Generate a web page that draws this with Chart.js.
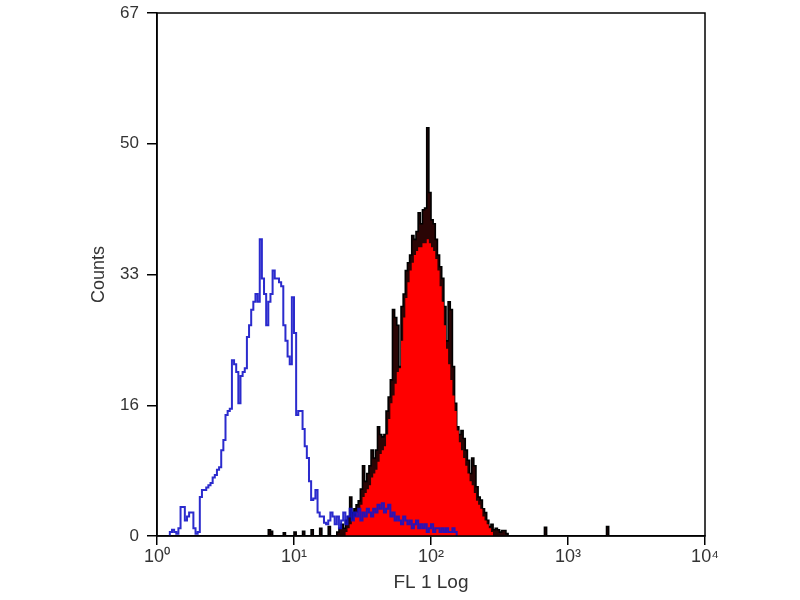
<!DOCTYPE html>
<html>
<head>
<meta charset="utf-8">
<script src="https://cdn.jsdelivr.net/npm/chart.js@4/dist/chart.umd.min.js"></script>
<style>
  body { margin: 0; background: #fff; }
  #wrap { width: 800px; height: 600px; }
</style>
</head>
<body>
<div id="wrap"><canvas id="histChart" width="800" height="600"></canvas></div>
<script>
// channels: 64 per decade, 4 decades (10^0 .. 10^4)
const channelsPerDecade = 64;

const xTickValues = [1, 10, 100, 1000, 10000];
const xTickLabels = ['10\u2070', '10\u00b9', '10\u00b2', '10\u00b3', '10\u2074'];
const yTickValues = [0, 16.75, 33.5, 50.25, 67];
const yTickLabels = ['0', '16', '33', '50', '67'];

// isotype control (blue outline), first channel 6
const blueStart = 6;
const blueCounts = [
    0.5, 0.8, 0.5, 0.3, 1, 3.7, 3.7, 2, 2.5, 3, 3, 1, 0.3, 0.5,
    5, 5.9, 5.9, 6.2, 6.5, 6.8, 7.5, 7.8, 8.5, 8.8,
    11, 12.3, 15.5, 16, 16.3, 22.5, 22, 21, 17, 20.5,
    21, 21.5, 25.5, 27, 29, 30, 31, 30, 38, 33,
    31, 27, 30, 31, 34, 33, 33, 32.5, 32, 27,
    25, 23, 22, 30.6, 26, 15.5, 16, 16, 13.7, 11.5,
    10, 7, 4.6, 4.8, 5.9, 3, 2.5, 2.5, 1.7, 1.5,
    2, 3, 2.5, 1.5, 2.5, 1, 2, 3, 1.5, 2.5,
    3.5, 2, 3, 2.5, 3.5, 2, 3, 2.5, 3.5, 3,
    2.5, 3.5, 3, 4, 3.5, 4.2, 3, 3.5, 4, 2.5,
    3, 2, 2.5, 2, 1.5, 2.5, 2, 1.5, 2, 1,
    1.5, 2, 1, 1.5, 1, 1.5, 0.5, 1, 1.5, 0.5,
    1, 1, 0.5, 1, 0.5, 1, 0.5, 0.5, 1, 0.5
];

// stained sample, outline (black), first channel 84
const blackStart = 84;
const blackCounts = [
    0.5, 1, 1.5, 1, 2, 2.5,
    5, 3, 3.5, 4, 4.5, 6, 9, 7, 8, 9,
    11, 10, 11, 14, 13, 12.7, 13, 16, 17.8, 20,
    29, 28, 27, 21.7, 29.4, 31, 34, 35, 36, 38.5,
    38, 39, 41.4, 40, 41.8, 42, 52.3, 44, 40.5, 40,
    38, 36, 34.5, 33, 29.4, 25, 30, 29, 21.7, 17,
    14, 13, 13.5, 12.5, 11, 9.7, 8, 10, 9, 6.3,
    5, 4.6, 3.5, 3, 2, 1.2, 1.5, 0.8, 1, 0.8,
    0.5, 0.7, 0.7, 0.3
];
// isolated events of the stained sample
const blackSpikeBins = [52, 53, 59, 64, 68, 72, 76, 80, 181, 210];
const blackSpikeCounts = [0.8, 0.6, 0.4, 0.5, 0.6, 0.8, 1, 1.2, 1.1, 1.2];

// stained sample, filled body (red), first channel 88
const redStart = 88;
const redCounts = [
    0.5, 1, 1.5, 2, 2.5, 3, 3.5, 4, 5, 5.5, 6, 6.5,
    7.5, 8, 8.5, 9.5, 10.5, 11, 11.5, 13, 15, 17,
    18, 19.5, 21, 21.5, 25, 28, 30.5, 32.5, 34, 35,
    36, 36.5, 37, 37, 37.5, 37.5, 38, 37.5, 37, 36.5,
    35.5, 34, 32, 30, 27, 24, 22, 20, 18, 16,
    13.5, 12, 11, 10, 9, 8, 7, 6.5, 5.5, 4.5,
    4, 3.5, 2.5, 2, 1.5, 1, 0.5
];

function chToX(ch) {
    return Math.pow(10, ch / channelsPerDecade);
}

// step-histogram points: left edge of each channel, closed to zero at both ends
function histPoints(start, counts) {
    const pts = [{ x: chToX(start), y: 0 }];
    counts.forEach((c, i) => pts.push({ x: chToX(start + i), y: c }));
    pts.push({ x: chToX(start + counts.length), y: 0 });
    return pts;
}

let blackPoints = [];
blackSpikeBins.forEach((b, i) => {
    if (b < blackStart) blackPoints = blackPoints.concat(histPoints(b, [blackSpikeCounts[i]]));
});
blackPoints = blackPoints.concat(histPoints(blackStart, blackCounts));
blackSpikeBins.forEach((b, i) => {
    if (b > blackStart) blackPoints = blackPoints.concat(histPoints(b, [blackSpikeCounts[i]]));
});

const framePlugin = {
    id: 'frame',
    afterDraw(chart) {
        const { ctx, chartArea } = chart;
        ctx.save();
        ctx.strokeStyle = '#000';
        ctx.lineWidth = 1.5;
        ctx.strokeRect(chartArea.left, chartArea.top, chartArea.right - chartArea.left, chartArea.bottom - chartArea.top);
        ctx.restore();
    }
};

const ctx = document.getElementById('histChart').getContext('2d');
new Chart(ctx, {
    type: 'line',
    data: {
        datasets: [
            {
                label: 'Control',
                data: histPoints(blueStart, blueCounts),
                borderColor: 'rgba(20, 20, 200, 0.9)',
                borderWidth: 2,
                stepped: 'before',
                fill: false,
                pointRadius: 0,
                order: 0
            },
            {
                label: 'Stained fill',
                data: histPoints(redStart, redCounts),
                borderWidth: 0,
                borderColor: 'rgba(0,0,0,0)',
                backgroundColor: '#ff0000',
                stepped: 'before',
                fill: 'origin',
                pointRadius: 0,
                order: 1
            },
            {
                label: 'Stained',
                data: blackPoints,
                borderColor: '#000',
                borderWidth: 1.6,
                backgroundColor: '#2a0505',
                stepped: 'before',
                fill: 'origin',
                pointRadius: 0,
                order: 2
            }
        ]
    },
    options: {
        responsive: false,
        animation: false,
        layout: { padding: { top: 13, right: 95, left: 0, bottom: 0 } },
        plugins: {
            legend: { display: false },
            tooltip: { enabled: false }
        },
        scales: {
            x: {
                type: 'logarithmic',
                min: 1,
                max: 10000,
                afterBuildTicks: scale => { scale.ticks = xTickValues.map(v => ({ value: v })); },
                afterFit: scale => { scale.height = 64; scale.paddingLeft = 0; scale.paddingRight = 0; },
                ticks: {
                    autoSkip: false,
                    maxRotation: 0,
                    padding: 1,
                    color: '#333',
                    font: { family: 'Liberation Sans', size: 18 },
                    callback: (v, i) => xTickLabels[i]
                },
                grid: { drawOnChartArea: false, drawTicks: true, tickLength: 9, color: '#000', lineWidth: 1.5 },
                border: { display: true, color: '#000', width: 1.5 },
                title: {
                    display: true,
                    text: 'FL 1 Log',
                    color: '#333',
                    font: { family: 'Liberation Sans', size: 19 },
                    padding: { top: 0, bottom: 6 }
                }
            },
            y: {
                type: 'linear',
                min: 0,
                max: 67,
                afterBuildTicks: scale => { scale.ticks = yTickValues.map(v => ({ value: v })); },
                afterFit: scale => { scale.width = 157; scale.paddingTop = 0; scale.paddingBottom = 0; },
                ticks: {
                    autoSkip: false,
                    padding: 8,
                    color: '#333',
                    font: { family: 'Liberation Sans', size: 17 },
                    callback: (v, i) => yTickLabels[i]
                },
                grid: { drawOnChartArea: false, drawTicks: true, tickLength: 10, color: '#000', lineWidth: 1.5 },
                border: { display: true, color: '#000', width: 1.5 },
                title: {
                    display: true,
                    text: 'Counts',
                    color: '#333',
                    font: { family: 'Liberation Sans', size: 18 },
                    padding: { top: 88, bottom: 0 }
                }
            }
        }
    },
    plugins: [framePlugin]
});
</script>
</body>
</html>
